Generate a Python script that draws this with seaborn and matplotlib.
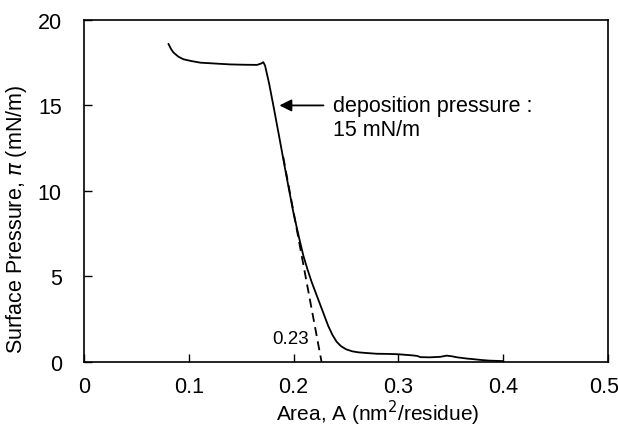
import matplotlib
matplotlib.use("Agg")
import matplotlib.pyplot as plt
import matplotlib.transforms as mtransforms
import seaborn as sns
import pandas as pd

# Surface pressure - area isotherm
area = [0.0805, 0.083, 0.0852, 0.090, 0.0948, 0.102, 0.111, 0.125, 0.139, 0.152,
        0.165, 0.169, 0.171, 0.1727, 0.1765, 0.1806, 0.1864, 0.193, 0.1997, 0.205,
        0.2093, 0.213, 0.217, 0.221, 0.225, 0.229, 0.233, 0.237, 0.241, 0.245,
        0.250, 0.256, 0.262, 0.270, 0.279, 0.290, 0.300, 0.314, 0.318, 0.321,
        0.330, 0.340, 0.346, 0.351, 0.356, 0.365, 0.372, 0.378, 0.386, 0.395,
        0.400]
pressure = [18.6, 18.3, 18.1, 17.85, 17.7, 17.6, 17.5, 17.45, 17.4, 17.38,
            17.37, 17.45, 17.53, 17.33, 16.3, 15.0, 13.1, 10.9, 8.75, 7.3,
            6.2, 5.45, 4.7, 4.05, 3.4, 2.75, 2.1, 1.58, 1.18, 0.93,
            0.74, 0.62, 0.56, 0.52, 0.48, 0.47, 0.45, 0.38, 0.35, 0.28,
            0.27, 0.30, 0.37, 0.33, 0.27, 0.20, 0.16, 0.12, 0.08, 0.06,
            0.05]

# Tangent to the steep region, extrapolated to zero pressure
tangent_area = [0.190, 0.2266]
tangent_pressure = [12.0, 0.0]
limiting_area = "0.23"

deposition_pressure = 15.0

x_ticks = [0, 0.1, 0.2, 0.3, 0.4, 0.5]
x_tick_labels = ["0", "0.1", "0.2", "0.3", "0.4", "0.5"]
y_ticks = [0, 5, 10, 15, 20]
y_tick_labels = ["0", "5", "10", "15", "20"]

sns.set_theme(style="ticks")
plt.rcParams["font.family"] = ["Liberation Sans", "DejaVu Sans"]
plt.rcParams["mathtext.fontset"] = "dejavusans"

fig = plt.figure(figsize=(6.18, 4.27), dpi=100)
ax = fig.add_axes([0.136, 0.150, 0.848, 0.801])

df = pd.DataFrame({"area": area, "pressure": pressure})
sns.lineplot(data=df, x="area", y="pressure", sort=False, ax=ax,
             color="black", linewidth=1.3)

tan_df = pd.DataFrame({"area": tangent_area, "pressure": tangent_pressure})
sns.lineplot(data=tan_df, x="area", y="pressure", sort=False, ax=ax,
             color="black", linewidth=1.3, linestyle=(0, (5, 3)))

ax.set_xlim(0, 0.5)
ax.set_ylim(0, 20)
ax.set_xticks(x_ticks)
ax.set_xticklabels(x_tick_labels)
ax.set_yticks(y_ticks)
ax.set_yticklabels(y_tick_labels)
ax.tick_params(direction="in", length=6, width=1, labelsize=15.5,
               colors="black")
ax.tick_params(axis="x", pad=10)
ax.tick_params(axis="y", pad=16)
for side in ["top", "right", "bottom", "left"]:
    ax.spines[side].set_visible(True)
    ax.spines[side].set_linewidth(1.2)
    ax.spines[side].set_color("black")

# keep the last x tick label inside the figure edge
last = ax.get_xticklabels()[-1]
last.set_transform(last.get_transform() +
                   mtransforms.ScaledTranslation(-4 / 100, 0,
                                                 fig.dpi_scale_trans))

ax.set_xlabel(r"Area, A (nm$^2$/residue)", fontsize=15, color="black")
ax.set_ylabel(r"Surface Pressure, $\pi$ (mN/m)", fontsize=15.5, color="black")
ax.xaxis.set_label_coords(0.56, -0.105)
ax.yaxis.set_label_coords(-0.105, 0.42)

# Arrow marking the deposition pressure
ax.annotate("", xy=(0.1864, deposition_pressure),
            xytext=(0.2284, deposition_pressure),
            arrowprops=dict(arrowstyle="-|>", color="black", lw=1.3,
                            mutation_scale=18, shrinkA=0, shrinkB=0))
ax.text(0.2379, deposition_pressure, "deposition pressure :",
        fontsize=15.5, ha="left", va="center", color="black")
ax.text(0.2379, deposition_pressure - 1.4, "15 mN/m",
        fontsize=15.5, ha="left", va="center", color="black")

ax.text(0.197, 1.4, limiting_area, fontsize=13.5, ha="center", va="center",
        color="black")

fig.savefig("out.png", dpi=100, facecolor="white")
